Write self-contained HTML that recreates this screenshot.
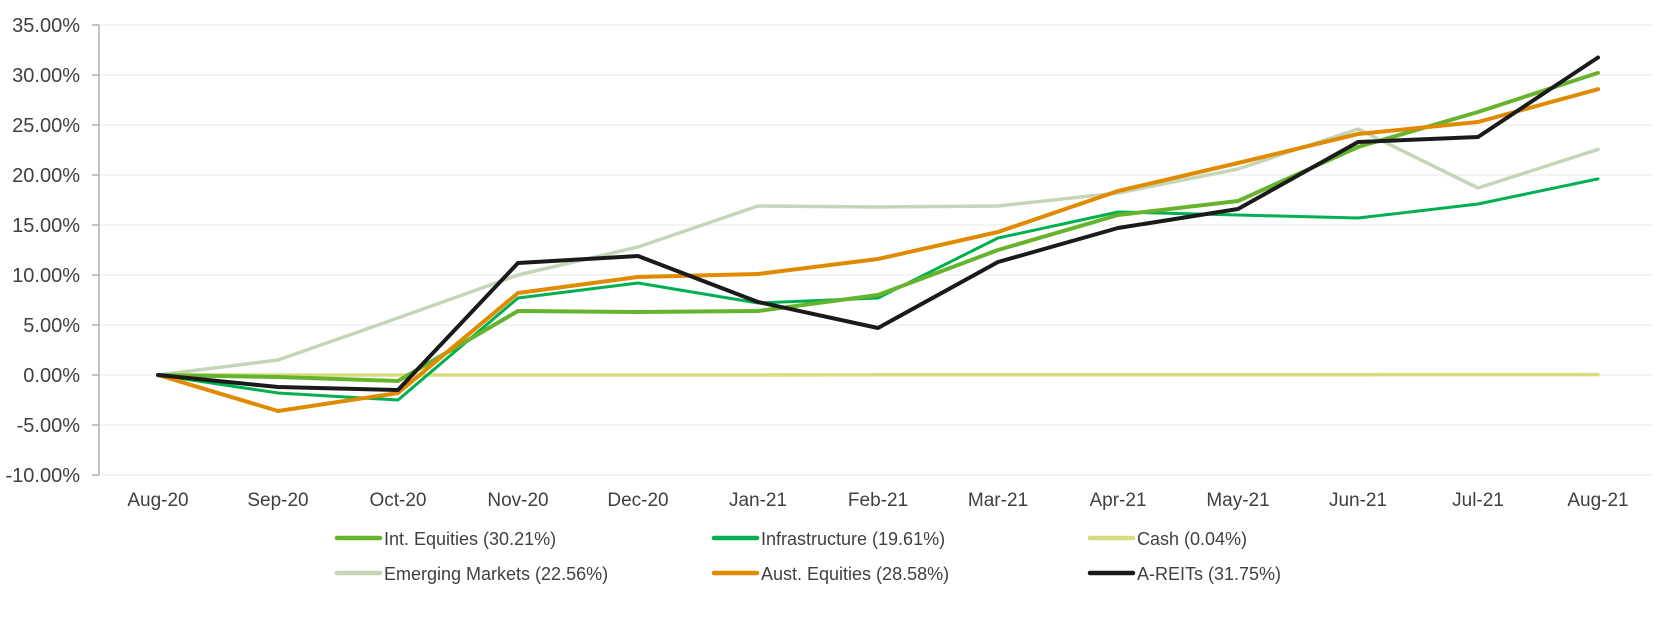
<!DOCTYPE html>
<html><head><meta charset="utf-8"><style>
body{margin:0;background:#fff;}
svg text{font-family:"Liberation Sans",sans-serif;fill:#404040;}
</style></head><body>
<svg id="chart" width="1661" height="617" xmlns="http://www.w3.org/2000/svg">
<g id="grid"></g>
<g id="yaxis"></g>
<g id="xaxis"></g>
<g id="lines"></g>
<g id="legend"></g>
</svg>
<script>
const categories=["Aug-20","Sep-20","Oct-20","Nov-20","Dec-20","Jan-21","Feb-21","Mar-21","Apr-21","May-21","Jun-21","Jul-21","Aug-21"];
const yTicks=[35,30,25,20,15,10,5,0,-5,-10];
const intEquities=[0,-0.2,-0.6,6.4,6.3,6.4,8.0,12.5,16.0,17.4,22.8,26.3,30.21];
const infrastructure=[0,-1.8,-2.5,7.7,9.2,7.2,7.7,13.7,16.3,16.0,15.7,17.1,19.61];
const cash=[0,0,0,0,0,0,0.02,0.03,0.03,0.03,0.03,0.04,0.04];
const emerging=[0,1.5,5.7,10.0,12.8,16.9,16.8,16.9,18.2,20.6,24.6,18.7,22.56];
const austEquities=[0,-3.6,-1.8,8.2,9.8,10.1,11.6,14.3,18.4,21.2,24.1,25.3,28.58];
const areits=[0,-1.2,-1.5,11.2,11.9,7.3,4.7,11.3,14.7,16.6,23.3,23.8,31.75];
const seriesNames=["Int. Equities (30.21%)","Infrastructure (19.61%)","Cash (0.04%)","Emerging Markets (22.56%)","Aust. Equities (28.58%)","A-REITs (31.75%)"];

const NS="http://www.w3.org/2000/svg";
const x=i=>158+i*120;
const y=v=>375-v*10;
function mk(tag,attrs,parent){const e=document.createElementNS(NS,tag);for(const k in attrs)e.setAttribute(k,attrs[k]);parent.appendChild(e);return e;}
const grid=document.getElementById('grid'),ya=document.getElementById('yaxis'),xa=document.getElementById('xaxis'),lines=document.getElementById('lines'),lg=document.getElementById('legend');
yTicks.forEach(t=>{
  const g=mk('line',{x1:99,x2:1652,y1:y(t),y2:y(t),stroke:'#f0f0f0','stroke-width':1.5},grid);
  
  
  const tk=mk('line',{x1:92,x2:99,y1:y(t),y2:y(t),stroke:'#b0b0b0','stroke-width':1.5},ya);
  
  
  const tx=mk('text',{x:80,y:y(t)+7,'text-anchor':'end','font-size':20},ya);
  tx.textContent=t.toFixed(2)+'%';
  
  
});
const ax=mk('line',{x1:99,x2:99,y1:25,y2:475,stroke:'#b0b0b0','stroke-width':1.5},ya);


categories.forEach((c,i)=>{
  const tx=mk('text',{x:x(i),y:506,'text-anchor':'middle','font-size':19},xa);
  tx.textContent=c;
  
  
});
const series=[
 {d:emerging,c:'#c5d6b8',w:3.5,n:3,key:'emerging-markets'},
 {d:cash,c:'#d8dc80',w:3.5,n:2,key:'cash'},
 {d:infrastructure,c:'#00b050',w:3,n:1,key:'infrastructure'},
 {d:intEquities,c:'#66b32e',w:4,n:0,key:'int-equities'},
 {d:austEquities,c:'#e08a00',w:4,n:4,key:'aust-equities'},
 {d:areits,c:'#1a1a1a',w:4,n:5,key:'a-reits'}
];
series.forEach(s=>{
  const p=mk('polyline',{points:s.d.map((v,i)=>x(i)+','+y(v)).join(' '),fill:'none',stroke:s.c,'stroke-width':s.w,'stroke-linejoin':'round','stroke-linecap':'round'},lines);
  
  
});
const legendCols=[337,714,1090];
const legendOrder=[{n:0,c:'#66b32e'},{n:1,c:'#00b050'},{n:2,c:'#d8dc80'},{n:3,c:'#c5d6b8'},{n:4,c:'#e08a00'},{n:5,c:'#1a1a1a'}];
legendOrder.forEach((s,k)=>{
  const lx=legendCols[k%3],ly=k<3?538:573;
  const g=mk('g',{},lg);
  
  
  mk('line',{x1:lx,x2:lx+43,y1:ly,y2:ly,stroke:s.c,'stroke-width':4.5,'stroke-linecap':'round'},g);
  const t=mk('text',{x:lx+47,y:ly+7,'font-size':18},g);
  t.textContent=seriesNames[s.n];
});
</script>
</body></html>
